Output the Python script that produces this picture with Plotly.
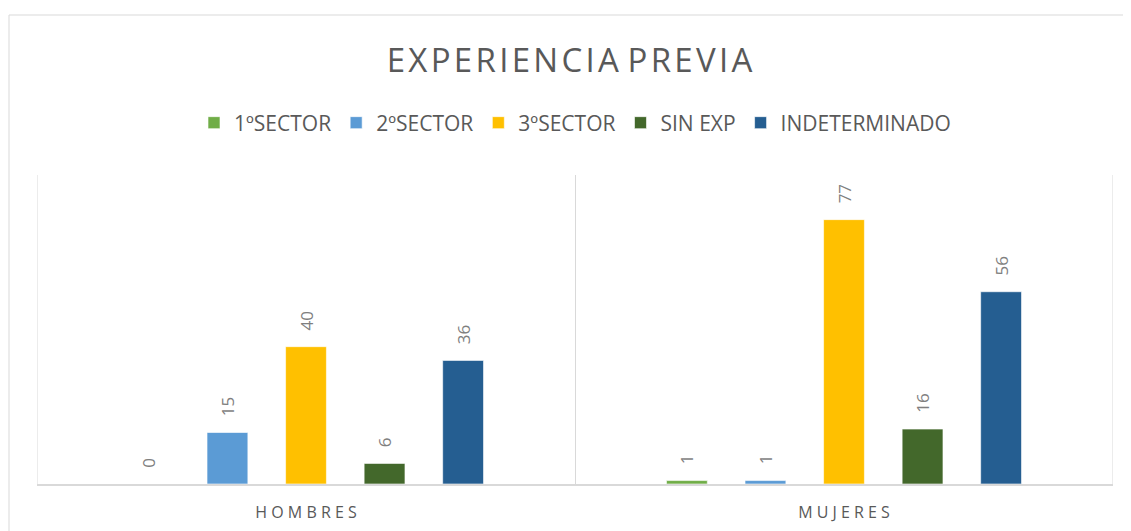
import plotly.graph_objects as go

categories = ["HOMBRES", "MUJERES"]
category_labels = ["H O M B R E S", "M U J E R E S"]
series_names = ["1ºSECTOR", "2ºSECTOR", "3ºSECTOR", "SIN EXP", "INDETERMINADO"]
values_1sector = [0, 1]
values_2sector = [15, 1]
values_3sector = [40, 77]
values_sinexp = [6, 16]
values_indet = [36, 56]
colors = ["#70AD47", "#5B9BD5", "#FFC000", "#43682B", "#255E91"]

all_values = [values_1sector, values_2sector, values_3sector, values_sinexp, values_indet]

fig = go.Figure()
for name, vals, col in zip(series_names, all_values, colors):
    fig.add_trace(go.Bar(
        x=categories, y=vals, name=name,
        marker=dict(color=col, line=dict(color="rgba(255,255,255,0.6)", width=1)),
        text=vals, texttemplate="\u00a0\u00a0\u00a0%{y}", textposition="outside", textangle=-90,
        constraintext="none", cliponaxis=False,
        textfont=dict(family="Open Sans", size=17, color="#7f7f7f"),
    ))

title_text = " ".join("\u200a".join(w) for w in "EXPERIENCIA PREVIA".split(" "))

# page body has an 8px margin: offset the figure accordingly
W, H = 1123, 523
PLOT_H = 309.0
PLOT_W = 1076.0
fig.update_layout(
    width=W, height=H,
    margin=dict(l=29, r=18, t=167, b=47, autoexpand=False),
    paper_bgcolor="white", plot_bgcolor="white",
    barmode="group", bargap=0.27, bargroupgap=0.48,
    title=dict(text=title_text,
               x=0.5, xanchor="center", y=1 - 52 / H, yanchor="middle",
               font=dict(family="Open Sans", size=33, color="#595959")),
    legend=dict(orientation="h", x=0.5, xanchor="center", y=(484 - 123) / PLOT_H, yanchor="middle",
                font=dict(family="Open Sans", size=21, color="#595959"),
                itemwidth=30, traceorder="normal"),
    showlegend=True,
    xaxis=dict(showgrid=True, gridcolor="#d9d9d9", tickson="boundaries", ticks="",
               showline=True, linecolor="#d9d9d9", linewidth=1.5,
               tickfont=dict(family="Open Sans", size=16, color="#595959"),
               tickvals=categories, ticktext=category_labels,
               ticklabelstandoff=13, automargin=False,
               range=[-0.5, 1.5]),
    yaxis=dict(range=[0, 90], showgrid=False, showticklabels=False, zeroline=False,
               showline=False, automargin=False),
    shapes=[
        dict(type="rect", xref="paper", yref="paper", x0=(9 - 37) / PLOT_W,
             x1=1.05, y0=-0.2, y1=(484 - 15) / PLOT_H,
             line=dict(color="#d9d9d9", width=1), fillcolor="rgba(0,0,0,0)", layer="below"),
        dict(type="line", xref="x", yref="paper", x0=-0.5, x1=-0.5, y0=0, y1=1,
             line=dict(color="#d9d9d9", width=1), layer="below"),
        dict(type="line", xref="x", yref="paper", x0=1.5, x1=1.5, y0=0, y1=1,
             line=dict(color="#d9d9d9", width=1), layer="below"),
    ],
)

fig.write_html("out.html")
